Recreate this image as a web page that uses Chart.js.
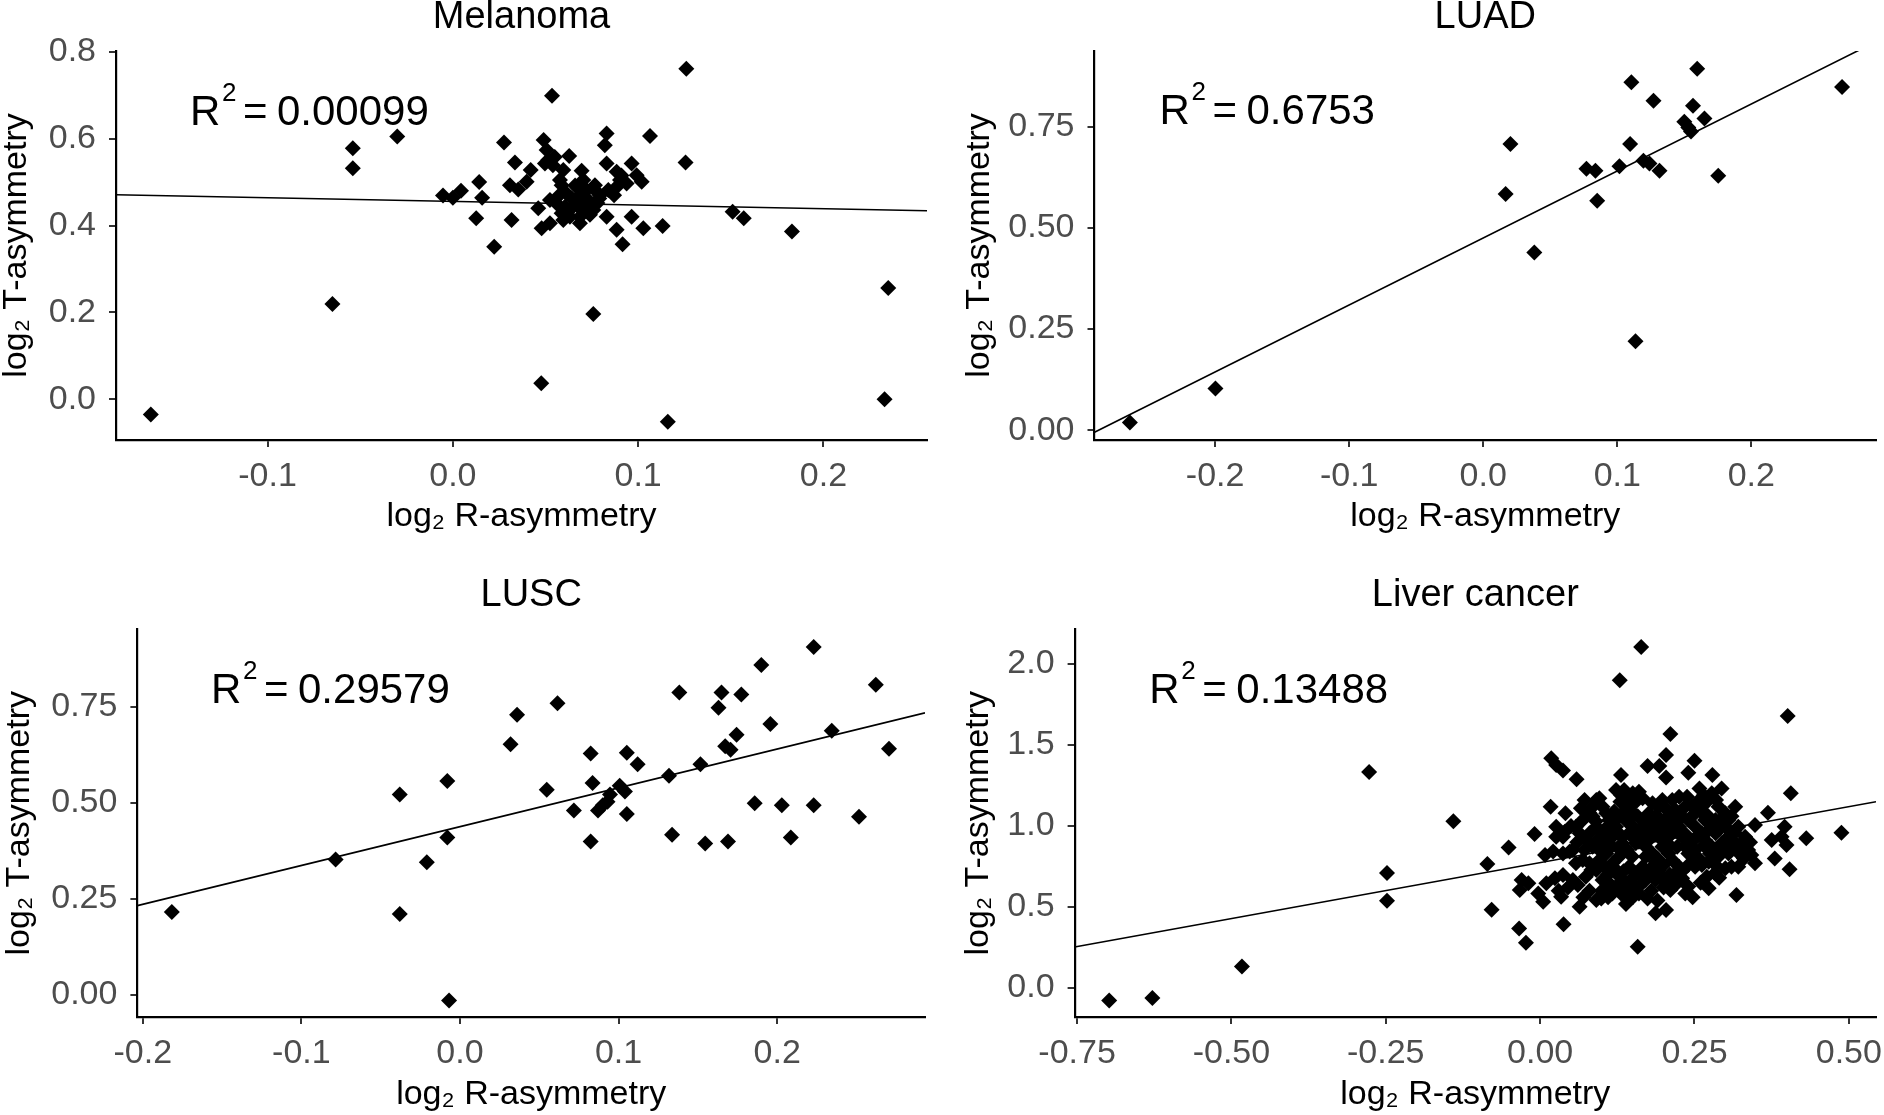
<!DOCTYPE html>
<html>
<head>
<meta charset="utf-8">
<script src="https://cdn.jsdelivr.net/npm/chart.js@4.4.1/dist/chart.umd.min.js"></script>
<style>
  html, body { margin: 0; padding: 0; background: #ffffff; }
  #wrap { position: relative; width: 1884px; height: 1115px; background: #ffffff; overflow: hidden; }
  canvas { position: absolute; }
</style>
</head>
<body>
<div id="wrap">
  <canvas id="c1" width="942" height="557" style="left:0px;top:0px;"></canvas>
  <canvas id="c2" width="942" height="557" style="left:942px;top:0px;"></canvas>
  <canvas id="c3" width="942" height="558" style="left:0px;top:557px;"></canvas>
  <canvas id="c4" width="942" height="558" style="left:942px;top:557px;"></canvas>
</div>
<script>
// ---------------- DATA ----------------
const panelTitles = ['Melanoma', 'LUAD', 'LUSC', 'Liver cancer'];
const r2Labels = ['0.00099', '0.6753', '0.29579', '0.13488'];
const xAxisTitle = 'log\u2082 R-asymmetry';
const yAxisTitle = 'log\u2082 T-asymmetry';

const melanomaXTicks = [-0.1, 0.0, 0.1, 0.2];
const melanomaXTickLabels = ['-0.1', '0.0', '0.1', '0.2'];
const melanomaYTicks = [0.0, 0.2, 0.4, 0.6, 0.8];
const melanomaYTickLabels = ['0.0', '0.2', '0.4', '0.6', '0.8'];

const luadXTicks = [-0.2, -0.1, 0.0, 0.1, 0.2];
const luadXTickLabels = ['-0.2', '-0.1', '0.0', '0.1', '0.2'];
const luadYTicks = [0.0, 0.25, 0.5, 0.75];
const luadYTickLabels = ['0.00', '0.25', '0.50', '0.75'];

const luscXTicks = [-0.2, -0.1, 0.0, 0.1, 0.2];
const luscXTickLabels = ['-0.2', '-0.1', '0.0', '0.1', '0.2'];
const luscYTicks = [0.0, 0.25, 0.5, 0.75];
const luscYTickLabels = ['0.00', '0.25', '0.50', '0.75'];

const liverXTicks = [-0.75, -0.5, -0.25, 0.0, 0.25, 0.5];
const liverXTickLabels = ['-0.75', '-0.50', '-0.25', '0.00', '0.25', '0.50'];
const liverYTicks = [0.0, 0.5, 1.0, 1.5, 2.0];
const liverYTickLabels = ['0.0', '0.5', '1.0', '1.5', '2.0'];

// axis limits
const melanomaXRange = [-0.1818, 0.2559];
const melanomaYRange = [-0.094, 0.802];
const luadXRange = [-0.29, 0.293];
const luadYRange = [-0.024, 0.937];
const luscXRange = [-0.2034, 0.2932];
const luscYRange = [-0.0587, 0.9525];
const liverXRange = [-0.754, 0.544];
const liverYRange = [-0.179, 2.213];

// regression lines (end points)
const melanomaFitX = [-0.1818, 0.2559];
const melanomaFitY = [0.471, 0.434];
const luadFitX = [-0.29, 0.293];
const luadFitY = [-0.005, 0.96];
const luscFitX = [-0.2034, 0.2932];
const luscFitY = [0.232, 0.735];
const liverFitX = [-0.754, 0.544];
const liverFitY = [0.253, 1.150];

// scatter points [x, y]
const melanomaPoints = [
  [-0.163,-0.035],[-0.065,0.219],[-0.054,0.578],[-0.054,0.532],[-0.030,0.605],[0.126,0.761],
  [0.0535,0.699],[0.1256,0.545],[0.1064,0.606],[0.151,0.432],[0.157,0.417],[0.183,0.386],
  [0.1132,0.399],[0.235,0.256],[0.233,0.0],[0.116,-0.052],[0.0477,0.037],[0.0758,0.196],
  [0.0223,0.351],[0.0916,0.357],[-0.0053,0.469],[0.0044,0.48],[0.0,0.464],[0.0126,0.417],
  [0.0158,0.464],[0.0142,0.50],
  [0.0276,0.591],[0.049,0.597],[0.0506,0.574],[0.0515,0.551],[0.0497,0.543],[0.055,0.558],
  [0.054,0.539],[0.0628,0.560],[0.083,0.612],[0.082,0.585],[0.0335,0.545],[0.042,0.528],
  [0.0308,0.493],[0.0398,0.501],[0.0353,0.483],[0.0596,0.528],[0.0578,0.505],[0.0587,0.493],
  [0.0695,0.526],[0.0704,0.505],[0.0677,0.486],[0.0722,0.482],[0.0776,0.478],[0.083,0.543],
  [0.0884,0.524],[0.0965,0.543],[0.0902,0.505],[0.0938,0.497],[0.0992,0.516],[0.1019,0.501],
  [0.0839,0.482],[0.0884,0.489],[0.0794,0.470],[0.0524,0.459],[0.056,0.451],[0.0461,0.440],
  [0.0605,0.443],[0.0641,0.463],[0.0668,0.455],[0.0686,0.470],[0.0731,0.459],[0.0758,0.436],
  [0.0695,0.436],[0.0587,0.428],[0.0596,0.413],[0.0686,0.420],[0.0686,0.405],[0.0632,0.420],
  [0.0317,0.413],[0.0479,0.394],[0.0524,0.405],[0.083,0.420],[0.0965,0.420],[0.0884,0.390],
  [0.1028,0.394],[0.0767,0.493],[0.0614,0.474],
  [0.065,0.445],[0.072,0.445],[0.078,0.452],[0.062,0.432],[0.074,0.425],[0.079,0.462],
  [0.057,0.468],[0.066,0.492],[0.087,0.470],[0.091,0.515]
];

const luadPoints = [
  [-0.2636,0.019],[-0.1998,0.103],[0.0167,0.584],[0.0203,0.707],[0.0381,0.439],[0.077,0.646],
  [0.0837,0.641],[0.085,0.567],[0.1016,0.652],[0.1096,0.707],[0.1105,0.860],[0.1195,0.666],
  [0.124,0.659],[0.1315,0.641],[0.127,0.814],[0.1136,0.220],[0.150,0.762],[0.153,0.748],
  [0.155,0.738],[0.1565,0.802],[0.1596,0.893],[0.165,0.770],[0.1753,0.629],[0.2677,0.848]
];

const luscPoints = [
  [-0.1817,0.215],[-0.0784,0.352],[-0.038,0.522],[-0.038,0.210],[-0.0209,0.345],[-0.008,0.557],
  [-0.008,0.410],[-0.0069,-0.0155],[0.0319,0.653],[0.036,0.730],[0.0615,0.760],[0.0547,0.534],
  [0.0718,0.480],[0.0824,0.629],[0.0836,0.552],[0.0824,0.399],[0.087,0.480],[0.090,0.494],
  [0.093,0.503],[0.0946,0.522],[0.1007,0.545],[0.104,0.530],[0.1052,0.631],[0.1052,0.471],
  [0.112,0.601],[0.1318,0.571],[0.1337,0.417],[0.1383,0.788],[0.1516,0.601],[0.1546,0.394],
  [0.163,0.748],[0.1649,0.788],[0.1672,0.648],[0.1706,0.639],[0.169,0.399],[0.1744,0.678],
  [0.1774,0.783],[0.1858,0.499],[0.190,0.860],[0.1957,0.706],[0.2029,0.494],[0.2086,0.410],
  [0.223,0.907],[0.223,0.494],[0.2344,0.688],[0.2516,0.464],[0.2622,0.808],[0.2705,0.641]
];

const liverPoints = [
  [-0.698,-0.077],[-0.628,-0.061],[-0.483,0.133],[-0.277,1.334],[-0.248,0.71],[-0.248,0.538],
  [-0.1405,1.03],[-0.0854,0.765],[-0.0786,0.483],[0.1637,2.105],[0.488,0.959],
  [0.129,1.90],[0.401,1.679],[0.211,1.568],[0.204,1.438],[0.174,1.370],[0.193,1.370],[0.204,1.300],
  [0.250,1.403],[0.240,1.329],[0.279,1.315],[0.258,1.232],[0.294,1.232],[0.406,1.202],[0.131,1.315],
  [0.018,1.418],[0.026,1.377],[0.037,1.342],[0.059,1.288],[0.017,1.119],[0.041,1.078],[-0.009,0.951],
  [-0.051,0.868],[0.369,1.082],[0.348,1.006],[0.431,0.924],[0.396,0.996],[0.391,0.934],[0.399,0.883],
  [0.375,0.914],[0.380,0.800],[0.404,0.733],[0.342,0.821],[0.348,0.770],[0.318,0.574],[0.273,0.615],
  [0.247,0.560],[0.270,0.687],[0.283,0.708],[0.211,0.605],[0.230,0.677],[0.187,0.461],[0.204,0.481],
  [0.158,0.255],[0.174,0.553],[0.139,0.519],[0.131,0.584],[0.091,0.543],[0.099,0.553],[0.064,0.502],
  [0.034,0.564],[0.005,0.533],[-0.003,0.584],[-0.033,0.605],[-0.030,0.667],[-0.019,0.646],[-0.034,0.368],
  [-0.023,0.280],[0.038,0.393],[0.010,0.646],[0.024,0.677],[0.037,0.698],[0.053,0.667],[0.061,0.636],
  [0.074,0.687],[0.083,0.728],[0.069,0.790],[0.072,0.852],[0.008,0.821],[0.021,0.842],[0.037,0.831],
  [0.048,0.842],[0.026,0.996],[0.040,0.965],[0.058,0.996],[0.069,1.037],[0.066,1.109],[0.072,1.160],
  [0.096,1.171],[0.101,1.119],[0.085,1.058],[0.091,0.996],[0.101,0.955],[0.112,1.037],[0.123,0.996],
  [0.117,0.934],[0.115,0.872],[0.107,0.831],[0.096,0.790],[0.104,0.749],[0.117,0.770],[0.128,0.811],
  [0.123,0.708],[0.134,0.667],[0.123,0.626],[0.141,0.605],[0.149,0.646],[0.155,0.708],[0.160,0.584],
  [0.144,0.749],[0.141,0.852],[0.149,0.811],[0.133,0.893],[0.155,0.893],[0.123,1.222],[0.136,1.222],
  [0.150,1.202],[0.160,1.212],[0.166,1.171],[0.155,1.150],[0.144,1.160],[0.131,1.191],[0.139,1.099],
  [0.133,1.068],[0.144,1.037],[0.150,0.996],[0.166,0.955],[0.160,0.903],[0.171,0.872],[0.176,0.914],
  [0.182,0.831],[0.171,0.811],[0.187,0.780],[0.182,0.749],[0.192,0.728],[0.198,0.687],[0.187,0.667],
  [0.203,0.646],[0.219,0.708],[0.225,0.749],[0.214,0.790],[0.208,0.831],[0.198,0.872],[0.192,0.934],
  [0.182,0.996],[0.187,1.058],[0.192,1.119],[0.182,1.140],[0.198,1.160],[0.214,1.160],[0.225,1.181],
  [0.238,1.181],[0.219,1.099],[0.208,1.058],[0.203,0.996],[0.214,0.955],[0.225,0.996],[0.230,0.934],
  [0.222,0.872],[0.235,0.872],[0.240,0.831],[0.251,0.852],[0.257,0.800],[0.262,0.759],[0.273,0.780],
  [0.284,0.759],[0.300,0.739],[0.310,0.749],[0.321,0.749],[0.289,0.811],[0.305,0.831],[0.316,0.872],
  [0.326,0.893],[0.305,0.934],[0.294,0.893],[0.278,0.872],[0.267,0.914],[0.262,0.955],[0.273,0.975],
  [0.284,0.955],[0.251,0.996],[0.240,1.037],[0.251,1.078],[0.246,1.119],[0.262,1.119],[0.273,1.160],
  [0.278,1.202],[0.289,1.119],[0.300,1.078],[0.316,1.119],[0.305,1.037],[0.321,0.996],[0.300,0.996],
  [0.284,1.037],[0.267,1.037],[0.230,1.058],[0.219,1.016],[0.176,1.078],[0.166,1.037],[0.160,0.975],
  [0.144,0.955],[0.133,0.934],[0.128,1.058],[0.141,1.027],[0.080,0.955],[0.075,0.914],[0.085,0.872],
  [0.096,0.852],[0.091,0.728],[0.080,0.770],[0.337,0.852],[0.332,0.934],[0.235,0.584],[0.251,0.749],
  [0.240,0.626],[0.171,0.667],[0.166,0.749],[0.160,0.626],[0.144,0.543],[0.117,0.584],[0.112,0.646],
  [0.101,0.667],[0.058,0.770],[0.053,0.852],[0.064,0.955],[0.037,0.934],[0.026,0.934],[0.107,0.975],
  [0.107,1.078],[0.085,1.119],[0.091,1.160],
  [0.110,1.000],[0.120,1.090],[0.130,1.150],[0.145,1.100],[0.158,1.060],[0.170,1.000],[0.175,0.960],
  [0.150,0.930],[0.125,0.960],[0.110,0.900],[0.130,0.850],[0.120,0.740],[0.110,0.700],[0.135,0.720],
  [0.150,0.680],[0.140,0.640],[0.128,0.600],[0.155,0.620],[0.165,0.690],[0.178,0.720],[0.190,0.800],
  [0.200,0.760],[0.210,0.700],[0.200,0.620],[0.215,0.660],[0.230,0.720],[0.240,0.760],[0.250,0.800],
  [0.235,0.950],[0.245,0.900],[0.255,0.940],[0.265,0.880],[0.275,0.830],[0.290,0.850],[0.300,0.880],
  [0.310,0.920],[0.315,0.960],[0.290,0.980],[0.280,1.010],[0.295,1.050],[0.310,1.060],[0.270,1.070],
  [0.260,1.090],[0.285,1.160],[0.265,1.190],[0.255,1.150],[0.235,1.120],[0.225,1.060],[0.205,1.100],
  [0.195,1.040],[0.195,0.990],[0.175,1.020],[0.185,0.950],[0.200,0.920],[0.210,0.880],[0.090,1.030],
  [0.080,1.080],[0.095,0.920],[0.105,0.880],[0.060,0.900],[0.050,1.000],[0.030,0.600],[0.045,0.620],
  [0.070,0.560],[0.080,0.600],[0.100,0.600],[0.110,0.560],[0.150,0.560],[0.180,0.600],[0.190,0.540],
  [0.220,0.640],[0.260,0.650],[0.290,0.680],[0.330,0.800],[0.340,0.900],[0.320,0.840]
];

// ---------------- RENDERING ----------------
const FONT = "'Liberation Sans', Arial, 'DejaVu Sans', sans-serif";
const TICK_COLOR = '#4d4d4d';

const r2Plugin = {
  id: 'r2Label',
  afterDatasetsDraw(chart, args, opts) {
    const {ctx, scales} = chart;
    const x0 = scales.x.getPixelForValue(opts.x);
    const y0 = scales.y.getPixelForValue(opts.y);
    ctx.save();
    ctx.fillStyle = '#000000';
    ctx.textAlign = 'left';
    ctx.textBaseline = 'alphabetic';
    ctx.font = '42px ' + FONT;
    ctx.fillText('R', x0, y0);
    ctx.font = '26px ' + FONT;
    ctx.fillText('2', x0 + 32, y0 - 24);
    ctx.font = '42px ' + FONT;
    ctx.fillText('=', x0 + 53, y0);
    ctx.fillText(opts.text, x0 + 87, y0);
    ctx.restore();
  }
};

function makeChart(id, p) {
  const pts = p.points.map(d => ({x: d[0], y: d[1]}));
  const fit = p.fitX.map((x, i) => ({x: x, y: p.fitY[i]}));
  return new Chart(document.getElementById(id), {
    type: 'scatter',
    data: {
      datasets: [
        {
          data: pts,
          pointStyle: 'rectRot',
          pointRadius: 8,
          pointHoverRadius: 8,
          pointBackgroundColor: '#000000',
          pointBorderWidth: 0,
          showLine: false
        },
        {
          data: fit,
          showLine: true,
          pointRadius: 0,
          borderColor: '#000000',
          borderWidth: 1.6,
          fill: false
        }
      ]
    },
    options: {
      responsive: false,
      devicePixelRatio: 1,
      animation: false,
      events: [],
      layout: { padding: { top: 0, right: p.padRight, bottom: 0, left: 0 } },
      plugins: {
        legend: { display: false },
        tooltip: { enabled: false },
        title: {
          display: true,
          text: p.title,
          fullSize: false,
          color: '#000000',
          font: { family: FONT, size: 38, weight: 'normal' },
          padding: p.titlePad
        },
        r2Label: { x: p.annX, y: p.annY, text: p.r2 }
      },
      scales: {
        x: {
          type: 'linear',
          min: p.xRange[0],
          max: p.xRange[1],
          afterBuildTicks: s => { s.ticks = p.xTicks.map(v => ({value: v})); },
          afterFit: s => { s.height = p.xH; s.paddingLeft = 0; s.paddingRight = 0; },
          ticks: {
            callback: (v, i) => p.xTickLabels[i],
            color: TICK_COLOR,
            font: { family: FONT, size: 34 },
            padding: 9,
            maxRotation: 0, minRotation: 0, autoSkip: false
          },
          grid: { display: true, drawOnChartArea: false, drawTicks: true, tickLength: 7, color: '#333333', lineWidth: 2 },
          border: { display: true, color: '#000000', width: 2.2 },
          title: {
            display: true, text: xAxisTitle, color: '#000000',
            font: { family: FONT, size: 34 },
            padding: { top: 0, bottom: p.xTitlePb }
          }
        },
        y: {
          type: 'linear',
          min: p.yRange[0],
          max: p.yRange[1],
          afterBuildTicks: s => { s.ticks = p.yTicks.map(v => ({value: v})); },
          afterFit: s => { s.width = p.yW; s.paddingTop = 0; s.paddingBottom = 0; },
          ticks: {
            callback: (v, i) => p.yTickLabels[i],
            color: TICK_COLOR,
            font: { family: FONT, size: 34 },
            padding: 13,
            autoSkip: false
          },
          grid: { display: true, drawOnChartArea: false, drawTicks: true, tickLength: 7, color: '#333333', lineWidth: 2 },
          border: { display: true, color: '#000000', width: 2.2 },
          title: {
            display: true, text: yAxisTitle, color: '#000000',
            font: { family: FONT, size: 34 },
            padding: { top: p.yTitlePt, bottom: 0 }
          }
        }
      }
    },
    plugins: [r2Plugin]
  });
}

makeChart('c1', {
  title: panelTitles[0], r2: r2Labels[0], points: melanomaPoints,
  fitX: melanomaFitX, fitY: melanomaFitY,
  xRange: melanomaXRange, yRange: melanomaYRange,
  xTicks: melanomaXTicks, xTickLabels: melanomaXTickLabels,
  yTicks: melanomaYTicks, yTickLabels: melanomaYTickLabels,
  padRight: 15, yW: 116, xH: 117, titlePad: { top: -5.6, bottom: 11 },
  xTitlePb: 19.6, yTitlePt: -4, annX: -0.1419, annY: 0.631
});
makeChart('c2', {
  title: panelTitles[1], r2: r2Labels[1], points: luadPoints,
  fitX: luadFitX, fitY: luadFitY,
  xRange: luadXRange, yRange: luadYRange,
  xTicks: luadXTicks, xTickLabels: luadXTickLabels,
  yTicks: luadYTicks, yTickLabels: luadYTickLabels,
  padRight: 2, yW: 152.5, xH: 117, titlePad: { top: -5.6, bottom: 11 },
  xTitlePb: 19.6, yTitlePt: 17, annX: -0.2415, annY: 0.756
});
makeChart('c3', {
  title: panelTitles[2], r2: r2Labels[2], points: luscPoints,
  fitX: luscFitX, fitY: luscFitY,
  xRange: luscXRange, yRange: luscYRange,
  xTicks: luscXTicks, xTickLabels: luscXTickLabels,
  yTicks: luscYTicks, yTickLabels: luscYTickLabels,
  padRight: 17, yW: 137.4, xH: 98, titlePad: { top: 15.9, bottom: 11 },
  xTitlePb: 0.1, yTitlePt: -1, annX: -0.157, annY: 0.761
});
makeChart('c4', {
  title: panelTitles[3], r2: r2Labels[3], points: liverPoints,
  fitX: liverFitX, fitY: liverFitY,
  xRange: liverXRange, yRange: liverYRange,
  xTicks: liverXTicks, xTickLabels: liverXTickLabels,
  yTicks: liverYTicks, yTickLabels: liverYTickLabels,
  padRight: 2, yW: 132.6, xH: 98, titlePad: { top: 15.9, bottom: 11 },
  xTitlePb: 0.1, yTitlePt: 16, annX: -0.633, annY: 1.761
});
</script>
</body>
</html>
